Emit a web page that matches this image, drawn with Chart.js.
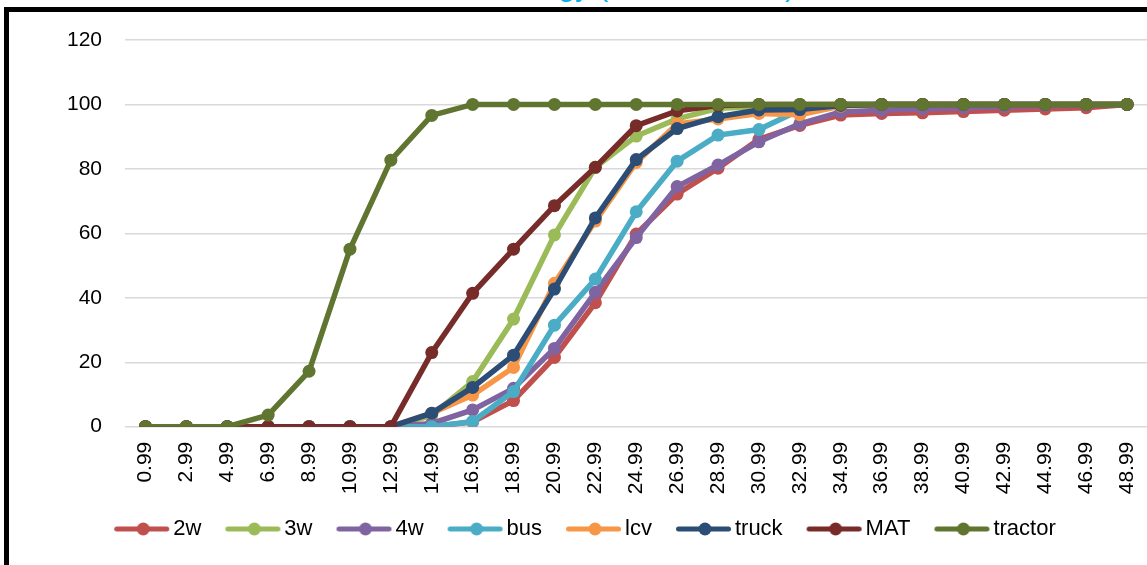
<!DOCTYPE html>
<html>
<head>
<meta charset="utf-8">
<title>Cumulative share by age</title>
<script src="https://cdn.jsdelivr.net/npm/chart.js@4/dist/chart.umd.min.js"></script>
<style>
  html, body { margin: 0; padding: 0; background: #fff; overflow: hidden; }
  #wrap { position: relative; width: 1147px; height: 565px; overflow: hidden; }
  #chart { position: absolute; left: 0; top: 0; }
  #title {
    position: absolute; right: 352px; top: -29px;
    font: 30px "Liberation Sans", Arial, sans-serif; line-height: 30px;
    color: #00b0f0; white-space: nowrap;
  }
  #frame {
    position: absolute; left: 4px; top: 7px; width: 1300px; height: 700px;
    border-top: 5px solid #000; border-left: 5px solid #000;
    pointer-events: none;
  }
</style>
</head>
<body>
<div id="wrap">
  <div id="title">Cumulative share of each technology (% of vehicles)</div>
  <canvas id="chart" width="1154" height="565"></canvas>
  <div id="frame"></div>
</div>
<script>
// age buckets (years)
const ages = ["0.99", "2.99", "4.99", "6.99", "8.99", "10.99", "12.99", "14.99", "16.99",
  "18.99", "20.99", "22.99", "24.99", "26.99", "28.99", "30.99", "32.99", "34.99",
  "36.99", "38.99", "40.99", "42.99", "44.99", "46.99", "48.99"];

// cumulative share (%) per vehicle class
const twoW = [0, 0, 0, 0, 0, 0, 0, 0, 1.5, 8.1, 21.5, 38.5, 59.8, 72.2, 80.2, 89.2, 93.5,
  96.7, 97.2, 97.4, 97.8, 98.2, 98.6, 99, 100];
const threeW = [0, 0, 0, 0, 0, 0, 0, 3.5, 14, 33.4, 59.5, 80.5, 90.2, 95.5, 98.8, 99.3, 99.7,
  100, 100, 100, 100, 100, 100, 100, 100];
const fourW = [0, 0, 0, 0, 0, 0, 0, 1, 5.2, 11.9, 24.3, 41.7, 58.7, 74.5, 81.2, 88.4, 94,
  97.7, 98.2, 98.6, 99, 99.3, 99.6, 99.8, 100];
const bus = [0, 0, 0, 0, 0, 0, 0, 0, 1.6, 10.9, 31.5, 45.8, 66.7, 82.4, 90.5, 92.2, 98.3,
  100, 100, 100, 100, 100, 100, 100, 100];
const lcv = [0, 0, 0, 0, 0, 0, 0, 4.2, 9.8, 18.4, 44.5, 63.8, 82, 94, 95.5, 97.2, 96.8,
  99.5, 100, 100, 100, 100, 100, 100, 100];
const truck = [0, 0, 0, 0, 0, 0, 0, 4.2, 12.2, 22.2, 42.7, 64.8, 82.9, 92.5, 96.2, 98.3, 98.4,
  99.7, 100, 100, 100, 100, 100, 100, 100];
const mat = [0, 0, 0, 0, 0, 0, 0, 23, 41.4, 55.1, 68.6, 80.5, 93.4, 98, 99.7, 100, 100,
  100, 100, 100, 100, 100, 100, 100, 100];
const tractor = [0, 0, 0, 3.6, 17.2, 55.1, 82.7, 96.6, 100, 100, 100, 100, 100, 100, 100, 100,
  100, 100, 100, 100, 100, 100, 100, 100, 100];

const seriesNames = ["2w", "3w", "4w", "bus", "lcv", "truck", "MAT", "tractor"];
const seriesData = [twoW, threeW, fourW, bus, lcv, truck, mat, tractor];
const seriesColors = ["#c0504d", "#9bbb59", "#8064a2", "#4bacc6", "#f79646", "#2c4d75", "#772c2a", "#5f7530"];

const yTicks = [0, 20, 40, 60, 80, 100, 120];

const FONT = "'Liberation Sans', Arial, sans-serif";

// line-with-marker swatch for the legend; the stroke sits in the right part
// of the canvas so it ends just before the label text
function legendIcon(color) {
  const c = document.createElement("canvas");
  c.width = 70;
  c.height = 14;
  const g = c.getContext("2d");
  g.strokeStyle = color;
  g.lineWidth = 5;
  g.lineCap = "round";
  g.beginPath();
  g.moveTo(15.5, 7);
  g.lineTo(65.5, 7);
  g.stroke();
  g.fillStyle = color;
  g.beginPath();
  g.arc(42, 7, 6.5, 0, Math.PI * 2);
  g.fill();
  return c;
}

const datasets = seriesNames.map((name, i) => ({
  label: name,
  data: seriesData[i],
  borderColor: seriesColors[i],
  backgroundColor: seriesColors[i],
  pointBackgroundColor: seriesColors[i],
  pointBorderWidth: 0,
  pointRadius: 6.5,
  borderWidth: 5.5,
  tension: 0,
  fill: false,
  // later series sit on top
  order: seriesNames.length - i,
}));

new Chart(document.getElementById("chart"), {
  type: "line",
  data: { labels: ages, datasets },
  options: {
    responsive: false,
    animation: false,
    layout: { padding: { top: 40, left: 14, right: 2, bottom: 15 } },
    plugins: {
      tooltip: { enabled: false },
      legend: {
        position: "bottom",
        labels: {
          usePointStyle: true,
          pointStyleWidth: 52,
          padding: 20,
          color: "#000",
          font: { size: 22, family: FONT },
          generateLabels: (chart) =>
            chart.data.datasets.map((ds, i) => ({
              text: ds.label,
              pointStyle: legendIcon(ds.borderColor),
              fillStyle: ds.borderColor,
              strokeStyle: ds.borderColor,
              lineWidth: 0,
              hidden: false,
              datasetIndex: i,
              fontColor: "#000",
            })),
        },
      },
    },
    scales: {
      x: {
        offset: true,
        grid: { display: false, drawTicks: false },
        border: { display: false },
        ticks: {
          autoSkip: false,
          minRotation: 90,
          maxRotation: 90,
          padding: 15,
          color: "#000",
          font: { size: 21, family: FONT },
        },
        afterFit: (scale) => {
          scale.height = 71.3;
          scale.paddingLeft = 0;
          scale.paddingRight = 0;
        },
      },
      y: {
        min: 0,
        max: 120,
        afterBuildTicks: (scale) => { scale.ticks = yTicks.map((v) => ({ value: v })); },
        grid: { color: "#d9d9d9", lineWidth: 1.5, drawTicks: false },
        border: { display: false },
        ticks: {
          padding: 23,
          color: "#000",
          font: { size: 21, family: FONT },
        },
        afterFit: (scale) => { scale.width = 111; },
      },
    },
  },
});
</script>
</body>
</html>
